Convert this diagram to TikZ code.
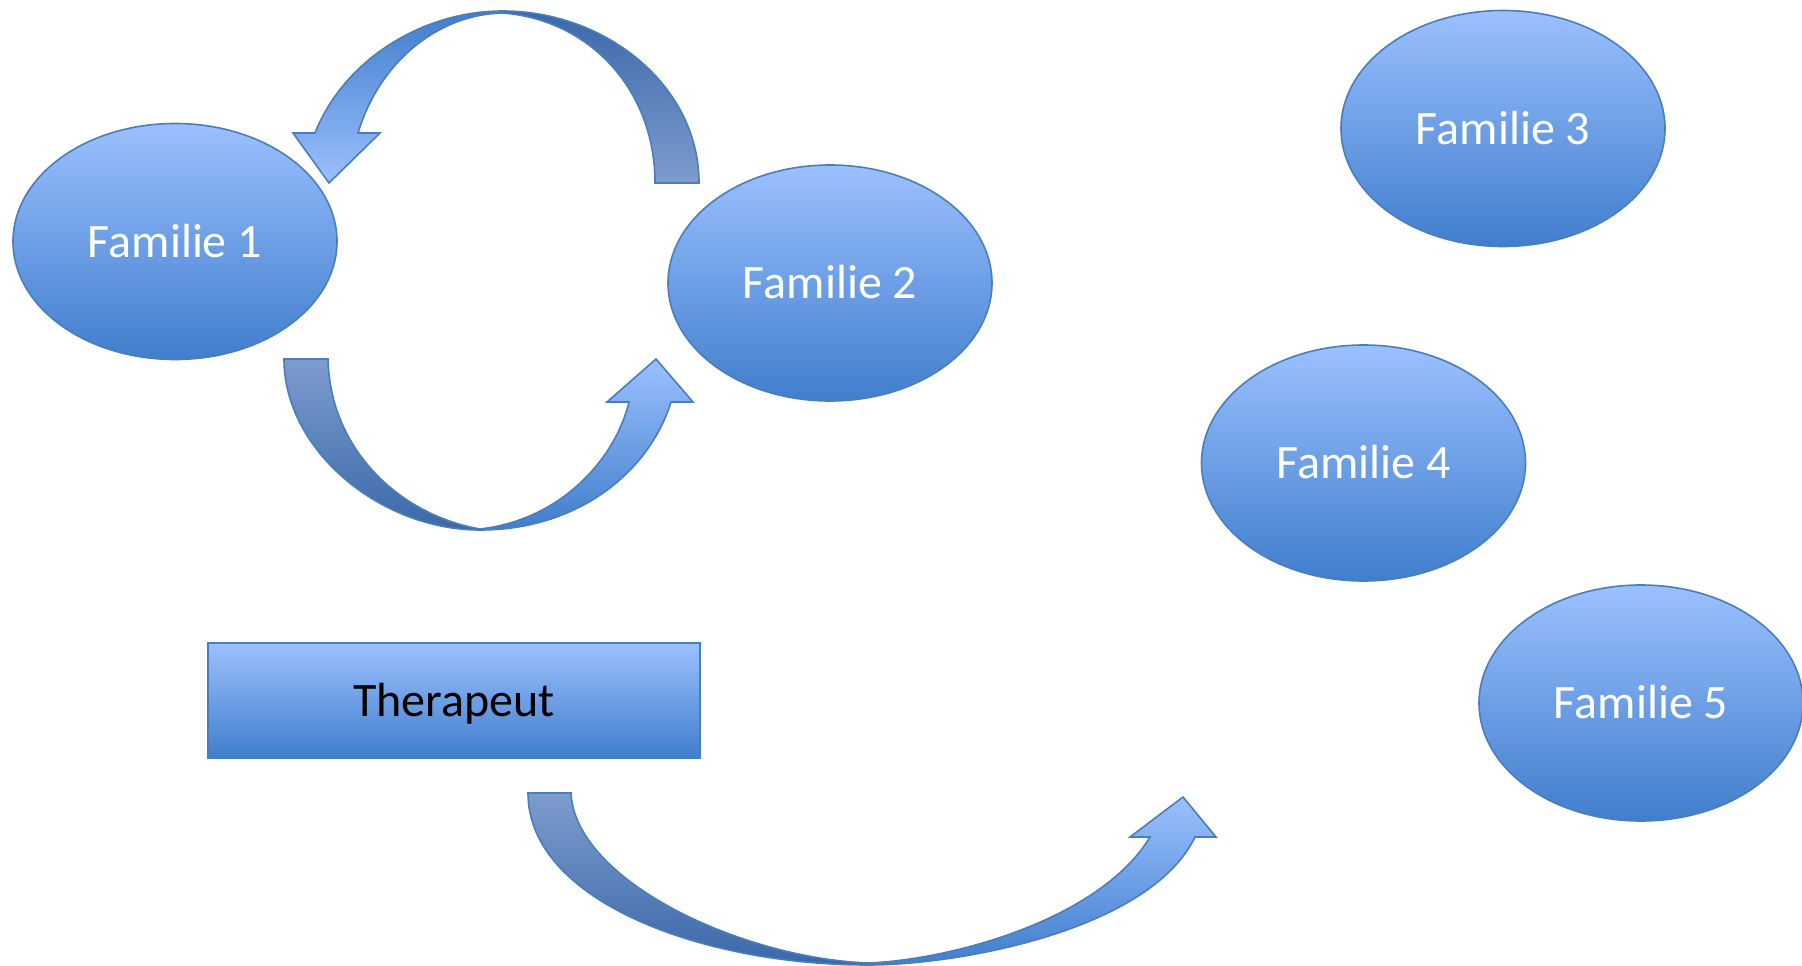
\documentclass[tikz,border=0pt]{standalone}
\usepackage{fontspec}
\setmainfont{Carlito}
\usetikzlibrary{shapes.geometric}

\definecolor{edgeblue}{RGB}{74,126,187}
\definecolor{lightblue}{RGB}{155,192,255}
\definecolor{midblue}{RGB}{64,126,204}
\definecolor{darkback}{RGB}{58,104,168}
\definecolor{paleback}{RGB}{125,156,207}

\tikzset{
  family/.style={ellipse, draw=edgeblue, line width=1.6pt,
    top color=lightblue, bottom color=midblue,
    minimum width=324pt, minimum height=236pt, inner sep=0pt,
    text=white, font=\fontsize{48}{52}\selectfont,
    text height=31pt, text depth=0pt},
  therapist/.style={rectangle, draw=edgeblue, line width=1.6pt,
    top color=lightblue, bottom color=midblue,
    minimum width=492pt, minimum height=115pt, inner sep=0pt,
    text=black, font=\fontsize{48}{52}\selectfont,
    text height=31pt, text depth=0pt},
  frontband/.style={draw=edgeblue, line width=1.6pt, line join=miter},
  backband/.style={draw=edgeblue, line width=1.6pt, line join=miter}
}

\begin{document}
\begin{tikzpicture}[x=1pt,y=-1pt]
  \useasboundingbox (0,0) rectangle (1802,966);

  % families and therapist
  \node[family] (f1) at (175,241.5) {Familie 1};
  \node[family] (f2) at (830,283) {Familie 2};
  \node[family] (f3) at (1503,128.5) {Familie 3};
  \node[family] (f4) at (1363.5,463) {Familie 4};
  \node[family] (f5) at (1641,703) {Familie 5};
  \node[therapist] (th) at (454,700.5) {Therapeut};

  % curved arrow from Familie 2 back to Familie 1 (over the top)
  \path[backband, top color=darkback, bottom color=paleback]
    (503,11) .. controls (605,11) and (699,85) .. (699,183)
    -- (655,183) .. controls (655,90) and (590,20) .. (503,13) -- cycle;
  \path[frontband, top color=midblue, bottom color=lightblue]
    (503,11) .. controls (420,11) and (343,62) .. (315,133)
    -- (293,133) -- (329,183) -- (380,133) -- (358,133)
    .. controls (380,60) and (440,14) .. (503,13) -- cycle;

  % curved arrow from Familie 1 to Familie 2 (underneath)
  \path[backband, top color=paleback, bottom color=darkback]
    (284,359) .. controls (284,450) and (380,530) .. (480,530)
    -- (480,529) .. controls (400,515) and (330,450) .. (328,359) -- cycle;
  \path[frontband, top color=lightblue, bottom color=midblue]
    (480,530) .. controls (580,530) and (650,470) .. (671,402)
    -- (693,402) -- (656,359) -- (607,402) -- (629,402)
    .. controls (615,460) and (560,520) .. (480,529) -- cycle;

  % curved arrow from the therapist towards the other families
  \path[backband, top color=paleback, bottom color=darkback]
    (528,793) .. controls (528,900) and (700,965) .. (868,965)
    -- (868,963) .. controls (740,958) and (575,880) .. (571,793) -- cycle;
  \path[frontband, top color=lightblue, bottom color=midblue]
    (868,965) .. controls (960,965) and (1150,930) .. (1195,837)
    -- (1216,837) -- (1183,797) -- (1130,837) -- (1150,837)
    .. controls (1100,920) and (950,960) .. (868,963) -- cycle;
\end{tikzpicture}
\end{document}
